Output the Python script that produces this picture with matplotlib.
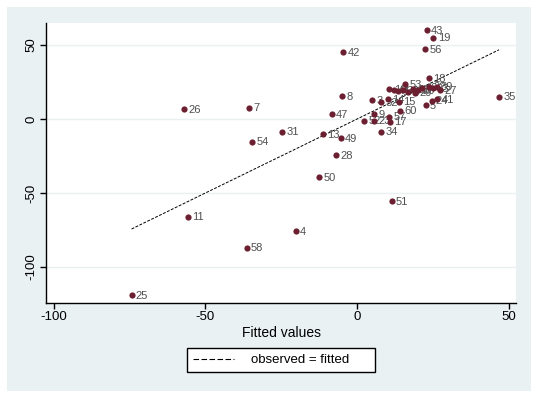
import matplotlib
matplotlib.use("Agg")
import matplotlib.pyplot as plt
from matplotlib.patches import Rectangle
from matplotlib.lines import Line2D

plt.rcParams['font.family'] = ['Liberation Sans', 'DejaVu Sans']

# observation id, fitted value, observed value
ids = ["43", "19", "56", "42", "18", "35", "8", "26", "7", "47",
       "31", "13", "49", "54", "34", "28", "50", "51", "11", "4",
       "58", "25", "60", "15", "5", "24", "41", "9", "52", "23",
       "57", "17", "3", "32", "14", "10", "44", "1", "36", "53",
       "6", "38", "20", "29", "40", "22", "33", "39", "27"]
fitted = [23.0, 25.2, 22.4, -4.5, 23.7, 46.8, -4.8, -56.9, -35.6, -8.3,
          -24.6, -11.3, -5.3, -34.6, 8.0, -6.9, -12.5, 11.5, -55.6, -20.1,
          -36.3, -74.3, 14.2, 13.8, 22.7, 24.6, 26.5, 5.6, 2.3, 5.6,
          10.7, 10.9, 5.1, 7.9, 10.3, 10.7, 12.2, 13.6, 15.1, 15.8,
          16.9, 18.6, 20.2, 19.1, 21.3, 23.8, 24.9, 26.3, 27.4]
observed = [60.1, 54.9, 47.1, 45.1, 27.5, 15.1, 15.5, 6.5, 7.6, 3.4,
            -8.6, -10.4, -13.1, -15.3, -8.6, -24.3, -39.2, -55.4, -66.0, -75.7,
            -87.0, -118.9, 5.6, 11.7, 9.5, 12.4, 13.5, 3.4, -1.1, -1.1,
            1.6, -1.8, 12.8, 11.3, 13.5, 20.3, 19.6, 18.9, 19.6, 23.6,
            18.4, 20.3, 19.6, 17.8, 21.2, 21.8, 20.7, 21.8, 19.6]

xticks = [-100, -50, 0, 50]
yticks = [-100, -50, 0, 50]

fig = plt.figure(figsize=(5.4, 3.97), dpi=100, facecolor='white')
fig.patches.append(Rectangle((7 / 540, 1 - 391 / 397), 524 / 540, 384 / 397,
                             transform=fig.transFigure, facecolor='#EAF1F3',
                             edgecolor='none', zorder=-10))

ax = fig.add_axes([46 / 540, 1 - 303 / 397, 470 / 540, 280 / 397])
ax.set_facecolor('white')

for yt in yticks:
    ax.axhline(yt, color='#EAF1F3', lw=1, zorder=0)

lo, hi = min(fitted), max(fitted)
ax.plot([lo, hi], [lo, hi], color='black', lw=0.7, dashes=(3, 1.5), zorder=1)

ax.scatter(fitted, observed, s=20, color='#6B1F30', zorder=3, linewidths=0)
for lab, x, y in zip(ids, fitted, observed):
    ax.annotate(lab, (x, y), xytext=(3, -0.5), textcoords='offset points',
                va='center', ha='left', fontsize=8, color='#505050', zorder=2)

ax.set_xlim(-102.5, 52.4)
ax.set_ylim(-124.3, 64.9)
ax.set_xticks(xticks)
ax.set_yticks(yticks)
ax.set_xticklabels([str(t) for t in xticks], fontsize=9.5)
ax.set_yticklabels([str(t) for t in yticks], fontsize=9.5, rotation=90, va='center')
ax.tick_params(direction='out', length=4, width=1, color='black', pad=2)

for s in ['top', 'right']:
    ax.spines[s].set_visible(False)
for s in ['left', 'bottom']:
    ax.spines[s].set_linewidth(1)

ax.set_xlabel("Fitted values", fontsize=10, labelpad=2)

handle = Line2D([], [], color='black', lw=0.8, dashes=(5, 2.2))
leg = fig.legend([handle], ["observed = fitted"], loc='center', mode='expand',
                 bbox_to_anchor=(187 / 540, 1 - 373 / 397, 188 / 540, 26 / 397),
                 fancybox=False, edgecolor='black', framealpha=1, fontsize=9.5,
                 handlelength=3.1, borderpad=0.45, handletextpad=1.3,
                 borderaxespad=0)
leg.get_frame().set_linewidth(1)

fig.savefig("out.png", dpi=100, facecolor='white')
